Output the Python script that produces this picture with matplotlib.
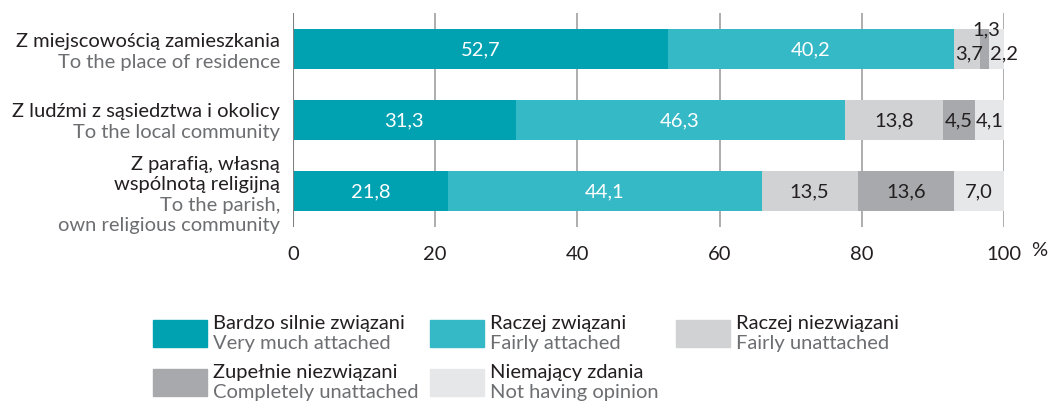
import matplotlib.pyplot as plt
import matplotlib.patches as patches
import numpy as np

plt.rcParams['font.family'] = ['Lato', 'DejaVu Sans']

cats_pl = ["Z miejscowością zamieszkania", "Z ludźmi z sąsiedztwa i okolicy", "Z parafią, własną\nwspólnotą religijną"]
cats_en = ["To the place of residence", "To the local community", "To the parish,\nown religious community"]

series_pl = ["Bardzo silnie związani", "Raczej związani", "Raczej niezwiązani", "Zupełnie niezwiązani", "Niemający zdania"]
series_en = ["Very much attached", "Fairly attached", "Fairly unattached", "Completely unattached", "Not having opinion"]

very_attached = [52.7, 31.3, 21.8]
fairly_attached = [40.2, 46.3, 44.1]
fairly_unattached = [3.7, 13.8, 13.5]
completely_unattached = [1.3, 4.5, 13.6]
no_opinion = [2.2, 4.1, 7.0]

xticks = [0, 20, 40, 60, 80, 100]

colors = ["#00a1b1", "#35b9c6", "#d1d2d4", "#a7a9ac", "#e6e7e8"]
text_colors = ["white", "white", "#231f20", "#231f20", "#231f20"]

data = np.array([very_attached, fairly_attached, fairly_unattached, completely_unattached, no_opinion])

fs = 14.5

fig = plt.figure(figsize=(10.53, 4.02), dpi=100)
W, H = 1053, 402
ax = fig.add_axes([293 / W, 1 - 228 / H, 711 / W, 214 / H])

y = np.arange(len(cats_pl))
left = np.zeros(len(cats_pl))
for i, vals in enumerate(data):
    ax.barh(y, vals, left=left, height=0.563, color=colors[i], zorder=2)
    for j, v in enumerate(vals):
        lab = f"{v:.1f}".replace(".", ",")
        cx = left[j] + v / 2
        if j == 0 and i >= 2:
            # small segments of first row: labels placed by hand
            continue
        ax.text(cx, y[j], lab, ha="center", va="center", fontsize=fs,
                color=text_colors[i], zorder=3)
    left += vals

# small values of the first row
x0 = very_attached[0] + fairly_attached[0]
ax.text(x0 + fairly_unattached[0] / 2 + 0.3, 0.05, "3,7", ha="center", va="center",
        fontsize=fs, color="#231f20", zorder=3)
ax.text(x0 + fairly_unattached[0] + completely_unattached[0] / 2 + 0.2, -0.28, "1,3",
        ha="center", va="center", fontsize=fs, color="#231f20", zorder=3)
ax.text(x0 + fairly_unattached[0] + completely_unattached[0] + no_opinion[0] / 2 + 1.0, 0.05,
        "2,2", ha="center", va="center", fontsize=fs, color="#231f20", zorder=3)

ax.set_xlim(0, 100)
ax.set_ylim(2.507, -0.507)
ax.set_xticks(xticks)
ax.set_xticklabels([str(t) for t in xticks], fontsize=fs, color="#231f20")
ax.tick_params(axis="x", length=0, pad=13)
ax.set_yticks([])
for s in ax.spines.values():
    s.set_visible(False)
ax.grid(axis="x", color="#a0a0a0", linewidth=1.2, zorder=0)
ax.axvline(0, color="#808080", linewidth=1.5, zorder=4)
ax.text(1.05, -0.107, "%", transform=ax.transAxes, ha="center", va="center",
        fontsize=fs, color="#231f20")

# category labels
for j in range(len(cats_pl)):
    lines = [(l, "#231f20") for l in cats_pl[j].split("\n")] + [(l, "#6d6e71") for l in cats_en[j].split("\n")]
    n = len(lines)
    yc = [52, 122, 195][j]
    for k, (l, c) in enumerate(lines):
        py = yc + (k - (n - 1) / 2) * 20.5
        fig.text(280 / W, 1 - py / H, l, ha="right", va="center", fontsize=fs, color=c)

# legend
leg_x = [153, 430, 676]
leg_y = [334, 383]
for i in range(len(series_pl)):
    col, row = i % 3, i // 3
    px, py = leg_x[col], leg_y[row]
    fig.patches.append(patches.Rectangle((px / W, 1 - (py + 13.5) / H), 54 / W, 27 / H,
                                         color=colors[i], transform=fig.transFigure))
    fig.text((px + 60) / W, 1 - (py - 10) / H, series_pl[i], ha="left", va="center",
             fontsize=fs, color="#231f20")
    fig.text((px + 60) / W, 1 - (py + 10) / H, series_en[i], ha="left", va="center",
             fontsize=fs, color="#6d6e71")

fig.savefig("out.png", dpi=100)
